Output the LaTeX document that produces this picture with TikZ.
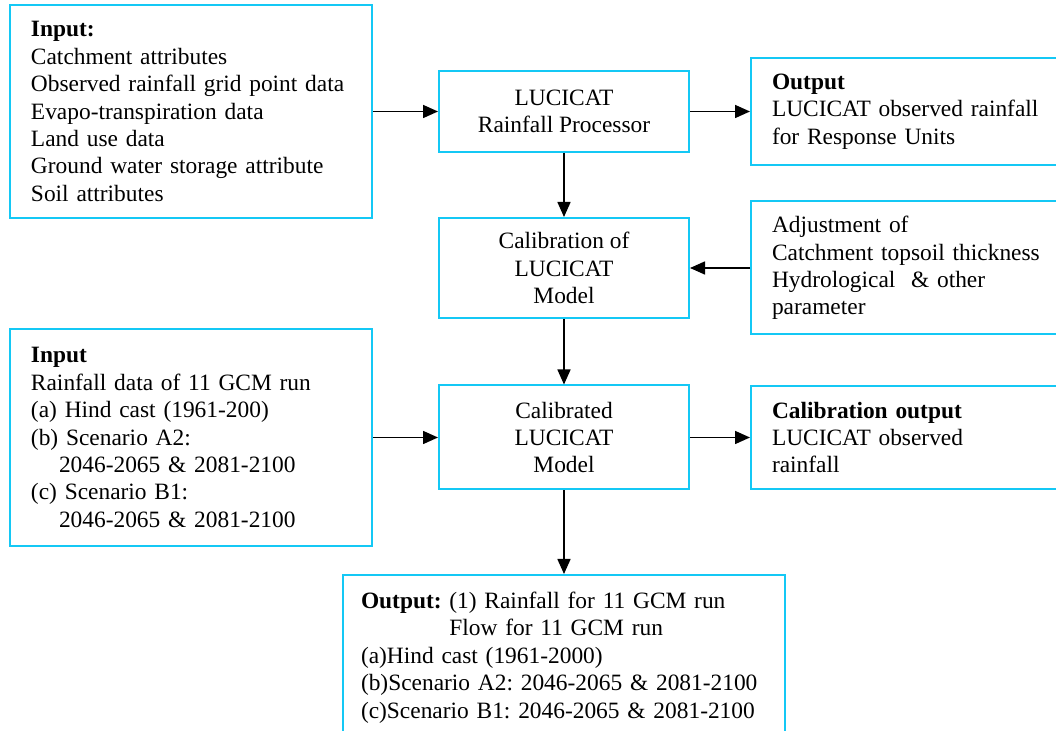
\documentclass[tikz,border=0pt]{standalone}
\usepackage{fontspec}
\setmainfont{Liberation Serif}
\usetikzlibrary{positioning,arrows.meta}
\definecolor{boxblue}{RGB}{20,200,245}
\frenchspacing

\begin{document}
\begin{tikzpicture}[x=0.5pt,y=-0.5pt,
  every node/.style={font=\fontsize{11.7}{13.7}\selectfont},
  box/.style={draw=boxblue,line width=1pt,align=center,inner sep=0pt,minimum width=125pt},
  lbox/.style={draw=boxblue,line width=1pt,align=left,inner xsep=10.5pt,inner ysep=0pt},
  ->,>={Triangle[length=7.5pt,width=6.5pt]},line width=0.8pt]
  \useasboundingbox (0,0) rectangle (1056,731);
  \clip (0,0) rectangle (1056,731);
  \node[lbox,text width=160pt,minimum height=106.5pt] (inA) at (191,111.5)
    {\textbf{Input:}\\Catchment attributes\\Observed rainfall grid point data\\Evapo-transpiration data\\Land use data\\Ground water storage attribute\\Soil attributes};
  \node[box,minimum height=40.5pt] (proc) at (564,111.5) {LUCICAT\\Rainfall Processor};
  \node[lbox,text width=141pt,minimum height=53.5pt] (outA) at (913,111.5)
    {\textbf{Output}\\LUCICAT observed rainfall\\for Response Units};
  \node[box,minimum height=50pt] (calib) at (564,268) {Calibration of\\LUCICAT\\Model};
  \node[lbox,text width=141pt,minimum height=66.5pt] (adj) at (913,268)
    {Adjustment of\\Catchment topsoil thickness\\Hydrological\ \ \& other\\parameter};
  \node[lbox,text width=160pt,minimum height=108.5pt] (inB) at (191,437.5)
    {\textbf{Input}\\Rainfall data of 11 GCM run\\(a) Hind cast (1961-200)\\(b) Scenario A2:\\\hspace*{14pt}2046-2065 \& 2081-2100\\(c) Scenario B1:\\\hspace*{14pt}2046-2065 \& 2081-2100};
  \node[box,minimum height=52pt] (calm) at (564,437.5) {Calibrated\\LUCICAT\\Model};
  \node[lbox,text width=141pt,minimum height=51.5pt] (outB) at (913,437.5)
    {\textbf{Calibration output}\\LUCICAT observed\\rainfall};
  \node[lbox,inner xsep=9pt,text width=203pt,minimum height=82.5pt] (outC) at (564,657.5)
    {\textbf{Output:} (1) Rainfall for 11 GCM run\\\hphantom{\textbf{Output:}~}Flow for 11 GCM run\\(a)Hind cast (1961-2000)\\(b)Scenario A2: 2046-2065 \& 2081-2100\\(c)Scenario B1: 2046-2065 \& 2081-2100};
  \draw (inA) -- (proc);
  \draw (proc) -- (outA);
  \draw (proc) -- (calib);
  \draw (adj) -- (calib);
  \draw (calib) -- (calm);
  \draw (inB) -- (calm);
  \draw (calm) -- (outB);
  \draw (calm) -- (outC);
\end{tikzpicture}
\end{document}
